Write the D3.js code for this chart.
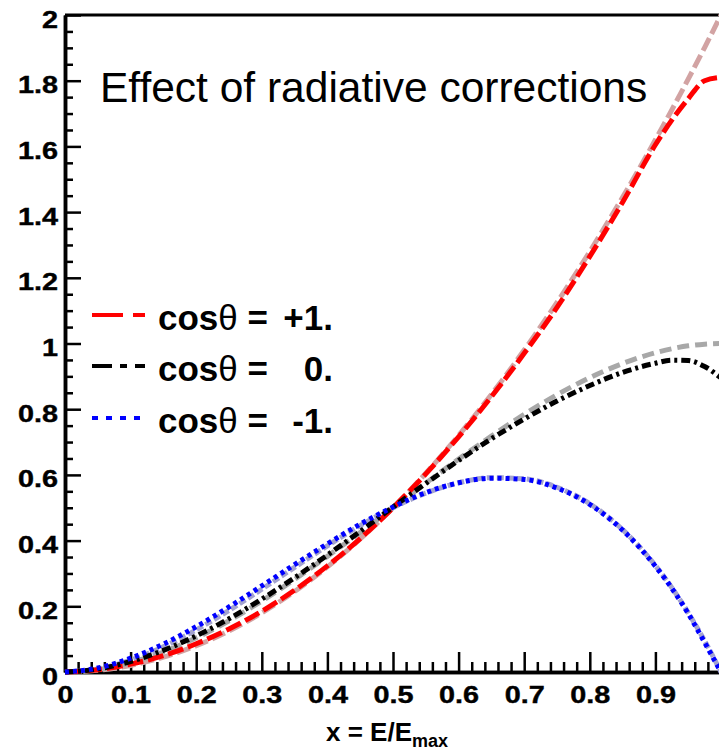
<!DOCTYPE html>
<html>
<head>
<meta charset="utf-8">
<script src="https://cdn.jsdelivr.net/npm/d3@7"></script>
<style>
  body { margin: 0; background: #fff; }
  svg { display: block; font-family: "Liberation Sans", Arial, sans-serif; }
</style>
</head>
<body>
<div id="chart"></div>
<script>
// x = E/Emax sample points
const xValues = [0, 0.05, 0.1, 0.15, 0.2, 0.25, 0.3, 0.35, 0.4, 0.45, 0.5, 0.55, 0.6, 0.65, 0.7, 0.75, 0.8, 0.85, 0.9, 0.925, 0.95, 0.975, 1.0];

// tree level (light curves)
const treePlus  = [0, 0.005, 0.02, 0.045, 0.08, 0.125, 0.18, 0.245, 0.32, 0.405, 0.5, 0.605, 0.72, 0.845, 0.98, 1.125, 1.28, 1.445, 1.62, 1.711, 1.805, 1.901, 2.0];
const treeZero  = [0, 0.007, 0.028, 0.061, 0.104, 0.156, 0.216, 0.282, 0.352, 0.425, 0.5, 0.575, 0.648, 0.718, 0.784, 0.844, 0.896, 0.939, 0.972, 0.984, 0.993, 0.998, 1.0];
const treeMinus = [0, 0.0095, 0.036, 0.0765, 0.128, 0.1875, 0.252, 0.3185, 0.384, 0.4455, 0.5, 0.5445, 0.576, 0.5915, 0.588, 0.5625, 0.512, 0.4335, 0.324, 0.257, 0.1805, 0.095, 0];

// with radiative corrections
const radPlus  = [0, 0.007, 0.024, 0.05, 0.086, 0.131, 0.185, 0.249, 0.323, 0.406, 0.5, 0.603, 0.716, 0.838, 0.97, 1.11, 1.265, 1.43, 1.605, 1.68, 1.745, 1.80, 1.81];
const radZero  = [0, 0.009, 0.032, 0.066, 0.11, 0.162, 0.222, 0.287, 0.356, 0.428, 0.502, 0.574, 0.644, 0.71, 0.77, 0.825, 0.872, 0.912, 0.94, 0.949, 0.948, 0.93, 0.895];
const radMinus = [0, 0.012, 0.042, 0.085, 0.138, 0.198, 0.262, 0.327, 0.39, 0.45, 0.502, 0.546, 0.576, 0.59, 0.586, 0.56, 0.51, 0.432, 0.322, 0.255, 0.178, 0.09, 0];

const legendLabels = ["+1.", "0.", "-1."];
const xMajorTicks = [0, 0.1, 0.2, 0.3, 0.4, 0.5, 0.6, 0.7, 0.8, 0.9];
const yMajorTicks = [0, 0.2, 0.4, 0.6, 0.8, 1.0, 1.2, 1.4, 1.6, 1.8, 2.0];

const width = 719, height = 754;
const svg = d3.select("#chart").append("svg")
    .attr("width", width)
    .attr("height", height);

const x = d3.scaleLinear().domain([0, 1]).range([65, 721]);
const y = d3.scaleLinear().domain([0, 2]).range([672, 15]);

// minor ticks
const xMinor = d3.range(0, 51).map(i => i / 50).filter(v => !xMajorTicks.some(t => Math.abs(t - v) < 1e-6));
const yMinor = d3.range(0, 41).map(i => i / 20).filter(v => !yMajorTicks.some(t => Math.abs(t - v) < 1e-6));

function styleAxis(g) {
    g.select(".domain").attr("stroke", "#000").attr("stroke-width", 3.5);
    g.selectAll(".tick line").attr("stroke", "#000").attr("stroke-width", 2.5);
}

svg.append("g")
    .attr("transform", "translate(0,672)")
    .call(d3.axisBottom(x).tickValues(xMinor).tickSize(-10).tickSizeOuter(0).tickFormat(""))
    .call(styleAxis);

const xAxis = svg.append("g")
    .attr("transform", "translate(0,672)")
    .call(d3.axisBottom(x).tickValues(xMajorTicks).tickSize(-20).tickSizeOuter(0).tickPadding(14)
        .tickFormat(d => String(+d.toFixed(1))))
    .call(styleAxis);

svg.append("g")
    .attr("transform", "translate(65,0)")
    .call(d3.axisLeft(y).tickValues(yMinor).tickSize(-8).tickSizeOuter(0).tickFormat(""))
    .call(styleAxis);

const yAxis = svg.append("g")
    .attr("transform", "translate(65,0)")
    .call(d3.axisLeft(y).tickValues(yMajorTicks).tickSize(-16).tickSizeOuter(0).tickPadding(7)
        .tickFormat(d => String(+d.toFixed(1))))
    .call(styleAxis);

// tick labels: bold, a little wider than the font
[xAxis, yAxis].forEach(g => {
    g.selectAll("text")
        .attr("font-family", "'Liberation Sans', Arial, sans-serif")
        .attr("font-size", 24)
        .attr("font-weight", "bold")
        .attr("fill", "#000")
        .attr("stroke", "#000")
        .attr("stroke-width", 0.4)
        .each(function() {
            const len = this.getComputedTextLength();
            d3.select(this).attr("textLength", len * 1.2).attr("lengthAdjust", "spacingAndGlyphs");
        });
});
yAxis.selectAll("text").attr("dy", "0.5em");
xAxis.selectAll("text").attr("dy", "0.71em");

// top frame
svg.append("line")
    .attr("x1", x(0)).attr("x2", x(1))
    .attr("y1", y(2)).attr("y2", y(2))
    .attr("stroke", "#000").attr("stroke-width", 3);

// curves
const line = d3.line()
    .x(d => x(d[0]))
    .y(d => y(d[1]))
    .curve(d3.curveMonotoneX);

const curves = [
    { values: treePlus,  color: "#d2a3a3", dash: "14,5" },
    { values: treeZero,  color: "#a8a8a8", dash: "12,6" },
    { values: treeMinus, color: "#a3a3cf", dash: "7,3" },
    { values: radPlus,   color: "#ff0000", dash: "16,5" },
    { values: radZero,   color: "#000000", dash: "9,4,3,4" },
    { values: radMinus,  color: "#0000ff", dash: "4,4" }
];

svg.append("g")
    .selectAll("path")
    .data(curves)
    .enter().append("path")
    .attr("d", c => line(xValues.map((v, i) => [v, c.values[i]])))
    .attr("fill", "none")
    .attr("stroke", c => c.color)
    .attr("stroke-width", 5)
    .attr("stroke-dasharray", c => c.dash);

// title
svg.append("text")
    .attr("x", 100)
    .attr("y", 102)
    .attr("font-size", 42.5)
    .attr("fill", "#000")
    .text("Effect of radiative corrections");

// legend
const legendColors = ["#ff0000", "#000000", "#0000ff"];
const legendDash = ["31,10,12", "20,8,7,8,10", "6,8"];
const legendBase = [330, 381, 433];

const legend = svg.append("g")
    .selectAll("g")
    .data(legendLabels)
    .enter().append("g");

legend.append("line")
    .attr("x1", 92).attr("x2", 145)
    .attr("y1", (d, i) => legendBase[i] - 15)
    .attr("y2", (d, i) => legendBase[i] - 15)
    .attr("stroke", (d, i) => legendColors[i])
    .attr("stroke-width", 4)
    .attr("stroke-dasharray", (d, i) => legendDash[i]);

const lt = legend.append("text")
    .attr("x", 158)
    .attr("y", (d, i) => legendBase[i])
    .attr("font-size", 35)
    .attr("font-weight", "bold")
    .attr("fill", "#000");
lt.append("tspan").text("cos");
lt.append("tspan").attr("font-weight", "normal").text("θ");
lt.append("tspan").text(" =");

legend.append("text")
    .attr("x", 333)
    .attr("y", (d, i) => legendBase[i])
    .attr("text-anchor", "end")
    .attr("font-size", 35)
    .attr("font-weight", "bold")
    .attr("fill", "#000")
    .text(d => d);

// x axis title
const xt = svg.append("text")
    .attr("x", 326)
    .attr("y", 741)
    .attr("font-size", 26)
    .attr("font-weight", "bold")
    .attr("fill", "#000");
xt.append("tspan").text("x = E/E");
xt.append("tspan").attr("font-size", 18).attr("dy", 6).text("max");
</script>
</body>
</html>
